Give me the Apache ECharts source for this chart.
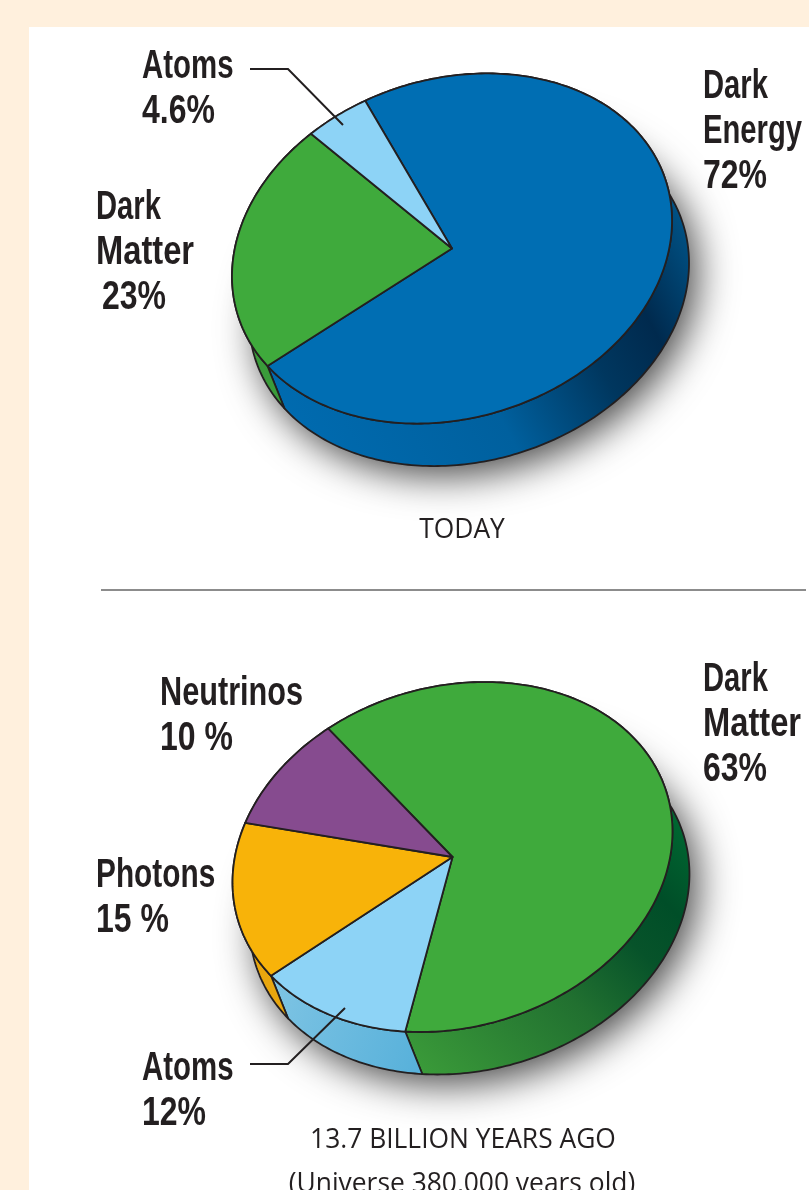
<!DOCTYPE html>
<html>
<head>
<meta charset="utf-8">
<style>html,body{margin:0;padding:0;background:#fff0dd}#c{width:809px;height:1190px}</style>
<script src="https://cdn.jsdelivr.net/npm/echarts@6/dist/echarts.min.js"></script>
</head>
<body>
<div id="c"></div>
<script>
// ---- data ----
const todayNames = ['Dark Energy', 'Dark Matter', 'Atoms'];
const todayValues = [72, 23, 4.6];
const earlyNames = ['Dark Matter', 'Atoms', 'Photons', 'Neutrinos'];
const earlyValues = [63, 12, 15, 10];
const todayCaption = 'TODAY';
const earlyCaption = ['13.7 BILLION YEARS AGO', '(Universe 380,000 years old)'];

// ---- style and layout ----
const BLUE = '#006eb3', GREEN = '#3faa3c', SKY = '#8dd3f6', PURPLE = '#864b8f', ORANGE = '#f8b309';
const INK = '#231f20';
const DEPTH = [17, 42.5];
const todayPie = { cx: 452, cy: 248.5, a: 224.3, b: 169.5, rot: -17.3, start: 260, total: 99.6 };
const earlyPie = { cx: 452.5, cy: 857, a: 223.6, b: 170.3, rot: -16.1, start: 248, total: 100 };
const todayTop = [BLUE, GREEN, SKY];
const earlyTop = [GREEN, SKY, ORANGE, PURPLE];
const grad = (x, y, x2, y2, stops) => new echarts.graphic.LinearGradient(
  x, y, x2, y2, stops.map(c => ({ offset: c[0], color: c[1] })), true);
const todayWall = [
  grad(280, 420, 690, 200, [[0, '#006bb0'], [0.42, '#00609e'], [0.66, '#00375f'], [0.8, '#002a4e'], [1, '#00598f']]),
  '#3a9c3a', '#6fbfe0'
];
const earlyWall = [
  grad(425, 1075, 690, 810, [[0, '#3a9a39'], [0.42, '#217030'], [0.64, '#07532a'], [0.78, '#004e28'], [1, '#006c33']]),
  grad(275, 1000, 430, 1060, [[0, '#7cc3e3'], [1, '#56b0da']]),
  '#e9a70e', PURPLE
];

function rim(p, deg, off) {
  const t = deg * Math.PI / 180, u = p.a * Math.cos(t), v = p.b * Math.sin(t), r = p.rot * Math.PI / 180;
  return [
    p.cx + u * Math.cos(r) - v * Math.sin(r) + (off ? DEPTH[0] : 0),
    p.cy + u * Math.sin(r) + v * Math.cos(r) + (off ? DEPTH[1] : 0)
  ];
}
function arc(p, from, to, off) {
  const pts = [], n = Math.max(2, Math.ceil(Math.abs(to - from)));
  for (let i = 0; i <= n; i++) pts.push(rim(p, from + (to - from) * i / n, off));
  return pts;
}
function sliceRange(p, values, i) {
  let sum = 0;
  for (let k = 0; k < i; k++) sum += values[k];
  return [p.start + sum / p.total * 360, p.start + (sum + values[i]) / p.total * 360];
}
const LINE = { stroke: '#231f20', lineWidth: 1.8, lineJoin: 'round' };

function shadowSeries(p, values) {
  return { type: 'custom', coordinateSystem: 'none', silent: true, animation: false, data: [values.reduce((s, v) => s + v, 0)],
    renderItem() {
      return { type: 'polygon', shape: { points: arc(p, 0, 360, true) },
        style: { fill: '#444', shadowBlur: 38, shadowColor: 'rgba(0,0,0,0.72)', shadowOffsetX: 8, shadowOffsetY: 10 } };
    } };
}
function wallSeries(p, values, fills) {
  return { type: 'custom', coordinateSystem: 'none', silent: true, animation: false, data: values,
    renderItem(params) {
      const r = sliceRange(p, values, params.dataIndex);
      const pts = arc(p, r[0], r[1], false).concat(arc(p, r[1], r[0], true));
      return { type: 'polygon', shape: { points: pts }, style: Object.assign({ fill: fills[params.dataIndex] }, LINE) };
    } };
}
function topSeries(p, values, fills) {
  return { type: 'custom', coordinateSystem: 'none', silent: true, animation: false, data: values,
    renderItem(params) {
      const r = sliceRange(p, values, params.dataIndex);
      const pts = [[p.cx, p.cy]].concat(arc(p, r[0], r[1], false));
      return { type: 'polygon', shape: { points: pts }, style: Object.assign({ fill: fills[params.dataIndex] }, LINE) };
    } };
}

// The reference face is condensed; each word is narrowed to its width in the picture.
const NARROW = { 'Atoms': 0.718, 'Dark': 0.712, 'Matter': 0.797, 'Energy': 0.712, 'Neutrinos': 0.748, 'Photons': 0.727 };
function label(lines, x, y) {
  return lines.map((text, i) => ({
    type: 'text', x, y: y + 2 + i * 45, scaleX: NARROW[text] || 0.78, z: 20, silent: true,
    style: { text, fill: INK, font: 'bold 41px "Liberation Sans", sans-serif', textVerticalAlign: 'middle' }
  }));
}
function caption(text, x, y) {
  return { type: 'text', x, y: y + 2, z: 20, silent: true,
    style: { text, fill: INK, font: '26.4px "Open Sans", sans-serif', textAlign: 'center', textVerticalAlign: 'middle' } };
}
function leader(points) {
  return { type: 'polyline', z: 20, silent: true, shape: { points }, style: { stroke: INK, lineWidth: 2, fill: null } };
}

const chart = echarts.init(document.getElementById('c'), null, { renderer: 'canvas' });
chart.setOption({
  backgroundColor: '#fff0dd',
  animation: false,
  graphic: { elements: [
    { type: 'rect', z: -10, silent: true, shape: { x: 29, y: 27, width: 790, height: 1180 }, style: { fill: '#fff' } },
    { type: 'line', z: -5, silent: true, shape: { x1: 101, y1: 590, x2: 806, y2: 590 }, style: { stroke: '#8c8c8c', lineWidth: 2 } },
    ...label(['Atoms', '4.6%'], 142, 65),
    ...label(['Dark', 'Matter'], 96, 206),
    ...label(['23%'], 102, 296),
    ...label(['Dark', 'Energy', '72%'], 703, 85),
    ...label(['Neutrinos', '10 %'], 160, 692),
    ...label(['Photons', '15 %'], 96, 874),
    ...label(['Atoms', '12%'], 142, 1067),
    ...label(['Dark', 'Matter', '63%'], 703, 678),
    leader([[250, 69], [288, 69], [343, 125]]),
    leader([[250, 1064], [288, 1064], [345, 1008]]),
    caption(todayCaption, 462, 528),
    caption(earlyCaption[0], 463, 1138),
    caption(earlyCaption[1], 462, 1182)
  ] },
  series: [
    shadowSeries(todayPie, todayValues),
    wallSeries(todayPie, todayValues, todayWall),
    topSeries(todayPie, todayValues, todayTop),
    shadowSeries(earlyPie, earlyValues),
    wallSeries(earlyPie, earlyValues, earlyWall),
    topSeries(earlyPie, earlyValues, earlyTop)
  ]
});
</script>
</body>
</html>
